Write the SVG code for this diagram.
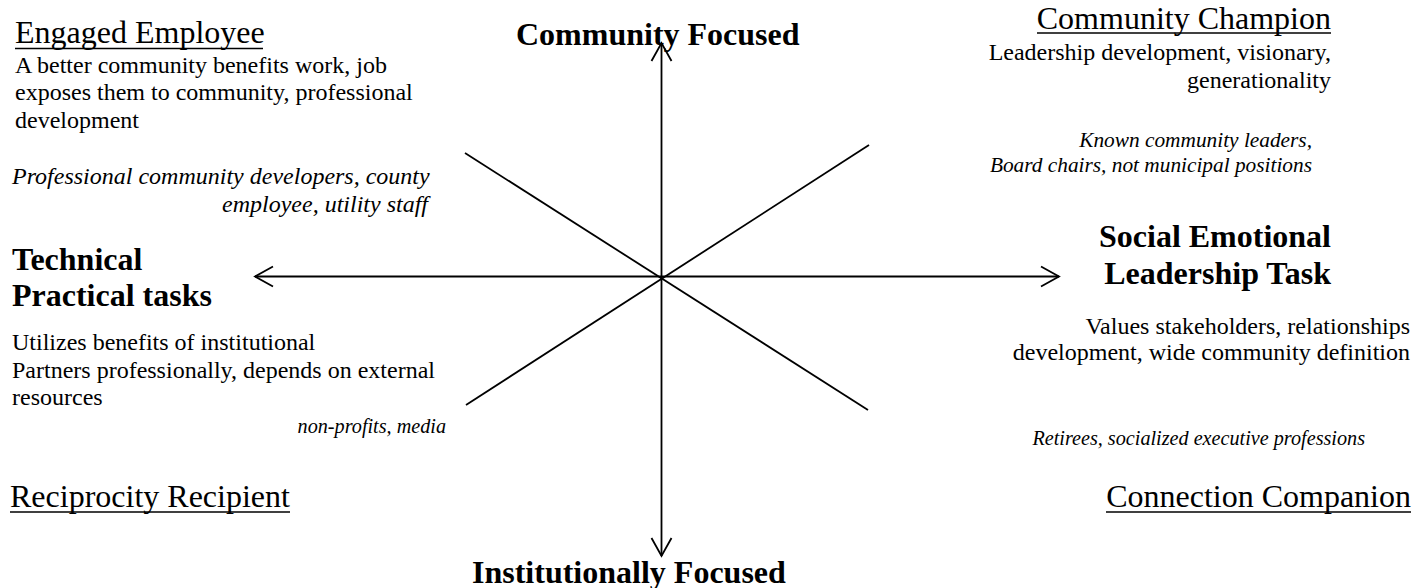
<svg xmlns="http://www.w3.org/2000/svg" width="1415" height="588" viewBox="0 0 1415 588">
<style>
text{font-family:"Liberation Serif","Times New Roman",serif;fill:#000}
.t{font-size:32px}
.b{font-size:32px;font-weight:bold}
.r{font-size:24px}
.i{font-size:24px;font-style:italic}
.s{font-size:21.33px;font-style:italic}
.x{font-size:20.2px;font-style:italic}
.e{text-anchor:end}
.u{stroke:#000;stroke-width:1.6}
.ax{stroke:#000;stroke-width:1.8;fill:none}
</style>
<defs>
<marker id="open" markerWidth="24" markerHeight="24" viewBox="-20 -12 24 24" refX="0" refY="0" orient="auto-start-reverse" markerUnits="userSpaceOnUse">
<path d="M-18,-10 L0,0 L-18,10" fill="none" stroke="#000" stroke-width="1.8"/>
</marker>
</defs>
<rect width="1415" height="588" fill="#fff"/>
<g id="connectors">
<line class="ax" x1="661.5" y1="43" x2="661.5" y2="556" marker-start="url(#open)" marker-end="url(#open)"/>
<line class="ax" x1="255" y1="276.5" x2="1059" y2="276.5" marker-start="url(#open)" marker-end="url(#open)"/>
<line class="ax" x1="465" y1="153" x2="868" y2="410"/>
<line class="ax" x1="869" y1="145" x2="466" y2="405"/>
</g>
<g id="community-focused"><text class="b" x="516" y="45">Community Focused</text></g>
<g id="institutionally-focused"><text class="b" x="472" y="583">Institutionally Focused</text></g>
<g id="technical-practical"><text class="b" x="12" y="270">Technical</text><text class="b" x="12" y="306">Practical tasks</text></g>
<g id="social-emotional"><text class="b e" x="1331" y="247">Social Emotional</text><text class="b e" x="1331" y="284">Leadership Task</text></g>
<g id="engaged-employee">
<text class="t" x="15" y="43">Engaged Employee</text>
<line class="u" x1="15" y1="48.5" x2="263" y2="48.5"/>
<text class="r" x="15" y="72.5">A better community benefits work, job</text>
<text class="r" x="15" y="100">exposes them to community, professional</text>
<text class="r" x="15" y="127.5">development</text>
<text class="i" x="12" y="184">Professional community developers, county</text>
<text class="i e" x="428" y="211.5">employee, utility staff</text>
</g>
<g id="community-champion">
<text class="t e" x="1331" y="28.5">Community Champion</text>
<line class="u" x1="1037" y1="33" x2="1331" y2="33"/>
<text class="r e" x="1331" y="59.5">Leadership development, visionary,</text>
<text class="r e" x="1331" y="87.5">generationality</text>
<text class="s e" x="1312" y="147">Known community leaders,</text>
<text class="s e" x="1312" y="172">Board chairs, not municipal positions</text>
</g>
<g id="reciprocity-recipient">
<text class="r" x="12" y="350">Utilizes benefits of institutional</text>
<text class="r" x="12" y="377.5">Partners professionally, depends on external</text>
<text class="r" x="12" y="405">resources</text>
<text class="x e" x="446" y="433">non-profits, media</text>
<text class="t" x="10" y="507">Reciprocity Recipient</text>
<line class="u" x1="10" y1="512" x2="290" y2="512"/>
</g>
<g id="connection-companion">
<text class="r e" x="1410" y="333.5">Values stakeholders, relationships</text>
<text class="r e" x="1410" y="360">development, wide community definition</text>
<text class="x e" x="1365" y="445">Retirees, socialized executive professions</text>
<text class="t e" x="1411" y="507">Connection Companion</text>
<line class="u" x1="1106" y1="512" x2="1411" y2="512"/>
</g>
</svg>
